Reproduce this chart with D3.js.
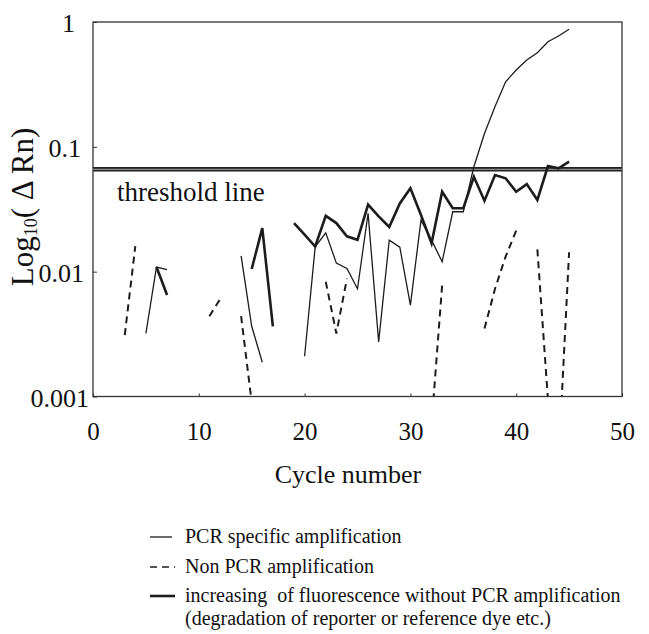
<!DOCTYPE html>
<html>

<head>
    <meta charset="UTF-8" />
    <title>threshold line</title>
    <style>
        body {
            margin: 0;
            padding: 0;
            background: #fff;
        }

        svg {
            display: block;
        }

        svg text {
            font-family: 'Liberation Serif', 'Times New Roman', serif;
            fill: #111;
        }
    </style>
</head>

<body>
    <div class="container"></div>

    <script src="https://cdnjs.cloudflare.com/ajax/libs/d3/7.8.5/d3.min.js"></script>
    <script>
        // each segment starts at a cycle, one value per cycle after it
        const specificSegments = [   // PCR specific amplification (thin line)
            { start: 5, values: [0.0032, 0.0109, 0.0104] },
            { start: 14, values: [0.0134, 0.00365, 0.00188] },
            { start: 20, values: [0.0021, 0.0158, 0.0205, 0.0117, 0.0106, 0.0073, 0.0293, 0.00274, 0.0179, 0.0157,
                0.0054, 0.0259, 0.0179, 0.012, 0.0302, 0.0302, 0.0693, 0.128, 0.21, 0.332,
                0.412, 0.496, 0.568, 0.695, 0.772, 0.874] }
        ]

        const nonPcrSegments = [     // Non PCR amplification (dashed)
            { start: 3, values: [0.0031, 0.016] },
            { start: 11, values: [0.0044, 0.006] },
            { start: 14, values: [0.0044, 0.0009] },
            { start: 22, values: [0.0083, 0.0032, 0.0088] },
            { start: 32, values: [0.0006, 0.0078] },
            { start: 37, values: [0.0035, 0.0073, 0.0132, 0.0213] },
            { start: 42, values: [0.0151, 0.00095] },
            { start: 44, values: [0.0003, 0.0143] }
        ]

        const driftSegments = [      // increasing of fluorescence (thick line)
            { start: 6, values: [0.0109, 0.0065] },
            { start: 15, values: [0.0105, 0.0223, 0.00365] },
            { start: 19, values: [0.0245, 0.0198, 0.0159, 0.028, 0.0245, 0.0192, 0.018, 0.0344, 0.0277, 0.0228,
                0.0352, 0.0465, 0.0284, 0.0169, 0.0437, 0.0322, 0.0322, 0.0575, 0.037, 0.0594,
                0.056, 0.0437, 0.0503, 0.0375, 0.0702, 0.0673, 0.076] }
        ]

        const threshold = 0.066
        const xTicks = [0, 10, 20, 30, 40, 50]
        const yTicks = [1, 0.1, 0.01, 0.001]
        const legendLabels = [
            'PCR specific amplification',
            'Non PCR amplification',
            'increasing  of fluorescence without PCR amplification',
            '(degradation of reporter or reference dye etc.)'
        ]

        const width = 649, height = 634
        const plotLeft = 93, plotRight = 622, plotTop = 22, plotBottom = 396.5
        const ink = '#1c1c1c'
        const serif = "'Liberation Serif', 'Times New Roman', serif"

        const svg = d3.select('.container').append('svg')
            .attr('width', width)
            .attr('height', height)
            .attr('font-family', serif)

        const x = d3.scaleLinear().domain([0, 50]).range([plotLeft, plotRight])
        const y = d3.scaleLog().domain([0.001, 1]).range([plotBottom, plotTop])

        svg.append('clipPath').attr('id', 'plot')
            .append('rect')
            .attr('x', plotLeft).attr('y', plotTop)
            .attr('width', plotRight - plotLeft).attr('height', plotBottom - plotTop)

        // axes, ticks point inwards
        const yAxis = svg.append('g')
            .attr('transform', `translate(${plotLeft},0)`)
            .call(d3.axisLeft(y).tickValues(yTicks).tickSize(-4).tickPadding(4).tickFormat(d => String(d)))
        const xAxis = svg.append('g')
            .attr('transform', `translate(0,${plotBottom})`)
            .call(d3.axisBottom(x).tickValues(xTicks).tickSize(-3).tickPadding(26).tickFormat(d3.format('d')))

        for (const g of [xAxis, yAxis]) {
            g.attr('font-family', serif).attr('font-size', 26)
            g.select('.domain').remove()
            g.selectAll('line').attr('stroke', '#333')
            g.selectAll('text').attr('fill', '#111')
        }
        xAxis.selectAll('text').attr('dy', '0.71em').attr('font-size', 25)
        // the scanned labels are not quite right-aligned
        const labelShift = { 1: -14, 0.1: -8, 0.01: -5, 0.001: 0 }
        yAxis.selectAll('text').attr('dx', d => labelShift[d]).attr('dy', '0.38em')

        svg.append('rect')
            .attr('x', plotLeft).attr('y', plotTop)
            .attr('width', plotRight - plotLeft).attr('height', plotBottom - plotTop)
            .attr('fill', 'none')
            .attr('stroke', '#333')
            .attr('stroke-width', 1.3)

        // threshold
        const thr = svg.append('g')
        thr.append('line')
            .attr('x1', plotLeft).attr('x2', plotRight)
            .attr('y1', y(threshold)).attr('y2', y(threshold))
            .attr('stroke', '#222').attr('stroke-width', 4.5)
        thr.append('line')
            .attr('x1', plotLeft).attr('x2', plotRight)
            .attr('y1', y(threshold)).attr('y2', y(threshold))
            .attr('stroke', '#8a8a8a').attr('stroke-width', 1.2)

        svg.append('text')
            .attr('x', 117).attr('y', 201)
            .attr('font-size', 27)
            .text('threshold line')

        const line = d3.line()
            .x(d => x(d[0]))
            .y(d => y(d[1]))

        const toPoints = seg => seg.values.map((v, i) => [seg.start + i, v])

        const series = [
            { segments: specificSegments, width: 1.3, dash: null },
            { segments: nonPcrSegments, width: 2, dash: '7,5' },
            { segments: driftSegments, width: 2.6, dash: null }
        ]

        const marks = svg.append('g').attr('clip-path', 'url(#plot)')
        series.forEach(s => {
            marks.append('g')
                .selectAll('path')
                .data(s.segments)
                .join('path')
                .attr('d', d => line(toPoints(d)))
                .attr('fill', 'none')
                .attr('stroke', ink)
                .attr('stroke-width', s.width)
                .attr('stroke-dasharray', s.dash)
        })

        // axis titles
        const yTitle = svg.append('text')
            .attr('transform', 'translate(33,207) rotate(-90)')
            .attr('text-anchor', 'middle')
            .attr('font-size', 31)
            .style('white-space', 'pre')
        yTitle.append('tspan').text('Log')
        yTitle.append('tspan').attr('font-size', 18).attr('dy', 4).text('10')
        yTitle.append('tspan').attr('dy', -4).text('( Δ Rn)')

        svg.append('text')
            .attr('x', 348).attr('y', 483)
            .attr('text-anchor', 'middle')
            .attr('font-size', 26)
            .text('Cycle number')

        // legend
        const rows = [537, 567, 596, 619]
        const legend = svg.append('g')
        series.forEach((s, i) => {
            legend.append('line')
                .attr('x1', 150).attr('x2', i === 0 ? 172 : 175)
                .attr('y1', rows[i]).attr('y2', rows[i])
                .attr('stroke', ink)
                .attr('stroke-width', i === 2 ? 2.6 : 1.3)
                .attr('stroke-dasharray', s.dash ? '7,5' : null)
        })
        legendLabels.forEach((t, i) => {
            legend.append('text')
                .attr('x', 185)
                .attr('y', rows[i] + 6)
                .attr('font-size', 20)
                .style('white-space', 'pre')
                .text(t)
        })
    </script>
</body>

</html>
